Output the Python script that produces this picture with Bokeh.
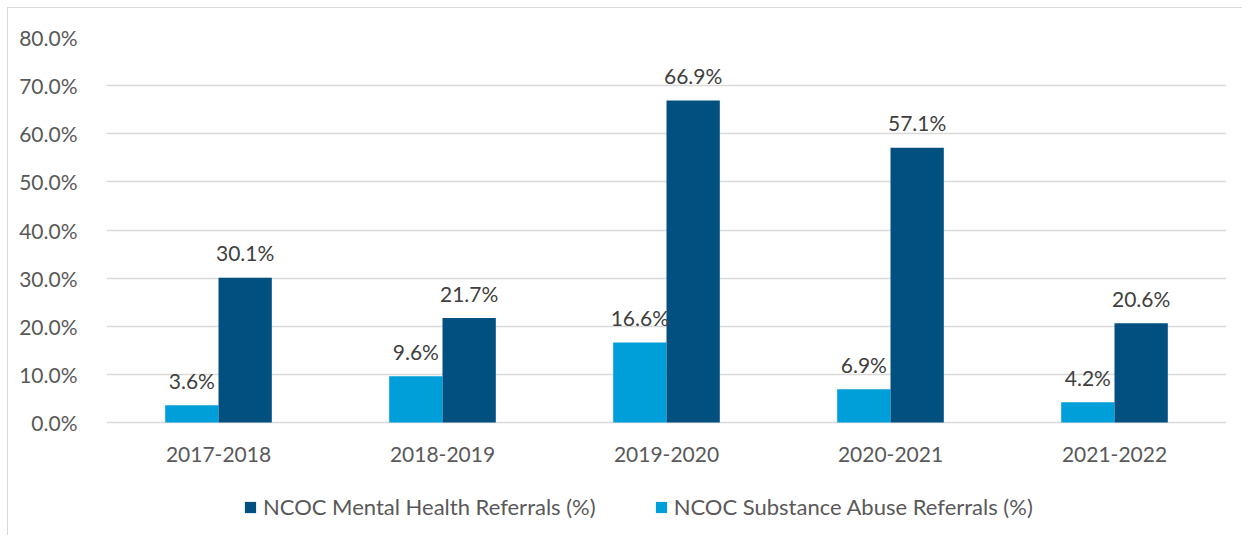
from bokeh.plotting import figure
from bokeh.models import ColumnDataSource, Range1d, FixedTicker, PrintfTickFormatter, Legend, LegendItem
from bokeh.transform import dodge
from bokeh.core.properties import value
from bokeh.embed import file_html
from bokeh.resources import INLINE

years = ["2017-2018", "2018-2019", "2019-2020", "2020-2021", "2021-2022"]
mental = [30.1, 21.7, 66.9, 57.1, 20.6]
substance = [3.6, 9.6, 16.6, 6.9, 4.2]
y_ticks = [0, 10, 20, 30, 40, 50, 60, 70, 80]

DARK = "#01507F"
LIGHT = "#009FD9"
FONT = "Lato"

src = ColumnDataSource(dict(
    years=years,
    zero=[0] * len(years),
    mental=mental,
    substance=substance,
    mental_lbl=[f"{v:.1f}%" for v in mental],
    substance_lbl=[f"{v:.1f}%" for v in substance],
))

# frame extends below zero so the legend can sit inside it
FRAME_H = 498
PX_PER_UNIT = 385 / 80.0
y_start = 80.0 - FRAME_H / PX_PER_UNIT

p = figure(x_range=years, y_range=Range1d(y_start, 80.0), frame_width=1120, frame_height=FRAME_H,
           output_backend="svg", toolbar_location=None,
           min_border_left=98, min_border_right=16, min_border_top=29, min_border_bottom=0)
p.styles = {"margin-left": "7px", "margin-top": "7px",
            "border-left": "1px solid #d9d9d9", "border-top": "1px solid #d9d9d9"}
p.outline_line_color = None
p.background_fill_color = "white"
p.border_fill_color = "white"

bw = 0.238
r_sub = p.vbar(x=dodge("years", -0.119, range=p.x_range), top="substance", width=bw,
               source=src, fill_color=LIGHT, line_color=None)
r_men = p.vbar(x=dodge("years", 0.119, range=p.x_range), top="mental", width=bw,
               source=src, fill_color=DARK, line_color=None)

for xcol, ycol, lcol, off in [("years", "substance", "substance_lbl", -0.119),
                              ("years", "mental", "mental_lbl", 0.119)]:
    p.text(x=dodge(xcol, off, range=p.x_range), y=ycol, text=lcol, source=src,
           text_align="center", text_baseline="middle", y_offset=-25,
           text_font=value(FONT), text_font_size="21px", text_color="#404040")

# category labels
p.text(x="years", y="zero", text="years", source=src, text_align="center",
       text_baseline="middle", y_offset=32, text_font=value(FONT),
       text_font_size="21px", text_color="#595959")

p.yaxis.ticker = FixedTicker(ticks=y_ticks)
p.yaxis.formatter = PrintfTickFormatter(format="%.1f%%")
p.yaxis.axis_line_color = None
p.yaxis.major_tick_line_color = None
p.yaxis.minor_tick_line_color = None
p.yaxis.major_label_standoff = 23
p.yaxis.major_label_text_font = FONT
p.yaxis.major_label_text_font_size = "21px"
p.yaxis.major_label_text_color = "#595959"

p.xaxis.visible = False

p.xgrid.grid_line_color = None
p.ygrid.grid_line_color = "#d9d9d9"
p.ygrid.grid_line_width = 1.5

legend = Legend(items=[LegendItem(label="NCOC Mental Health Referrals (%)", renderers=[r_men]),
                       LegendItem(label="NCOC Substance Abuse Referrals (%)", renderers=[r_sub])],
                orientation="horizontal", location=(137, 15))
legend.label_text_font = FONT
legend.label_text_font_size = "22px"
legend.label_text_color = "#595959"
legend.label_height = 14
legend.glyph_width = 14
legend.glyph_height = 14
legend.label_standoff = 6
legend.spacing = 58
legend.padding = 0
legend.margin = 0
legend.border_line_color = None
legend.background_fill_alpha = 0
p.add_layout(legend, "center")

open("out.html", "w").write(file_html(p, INLINE))
